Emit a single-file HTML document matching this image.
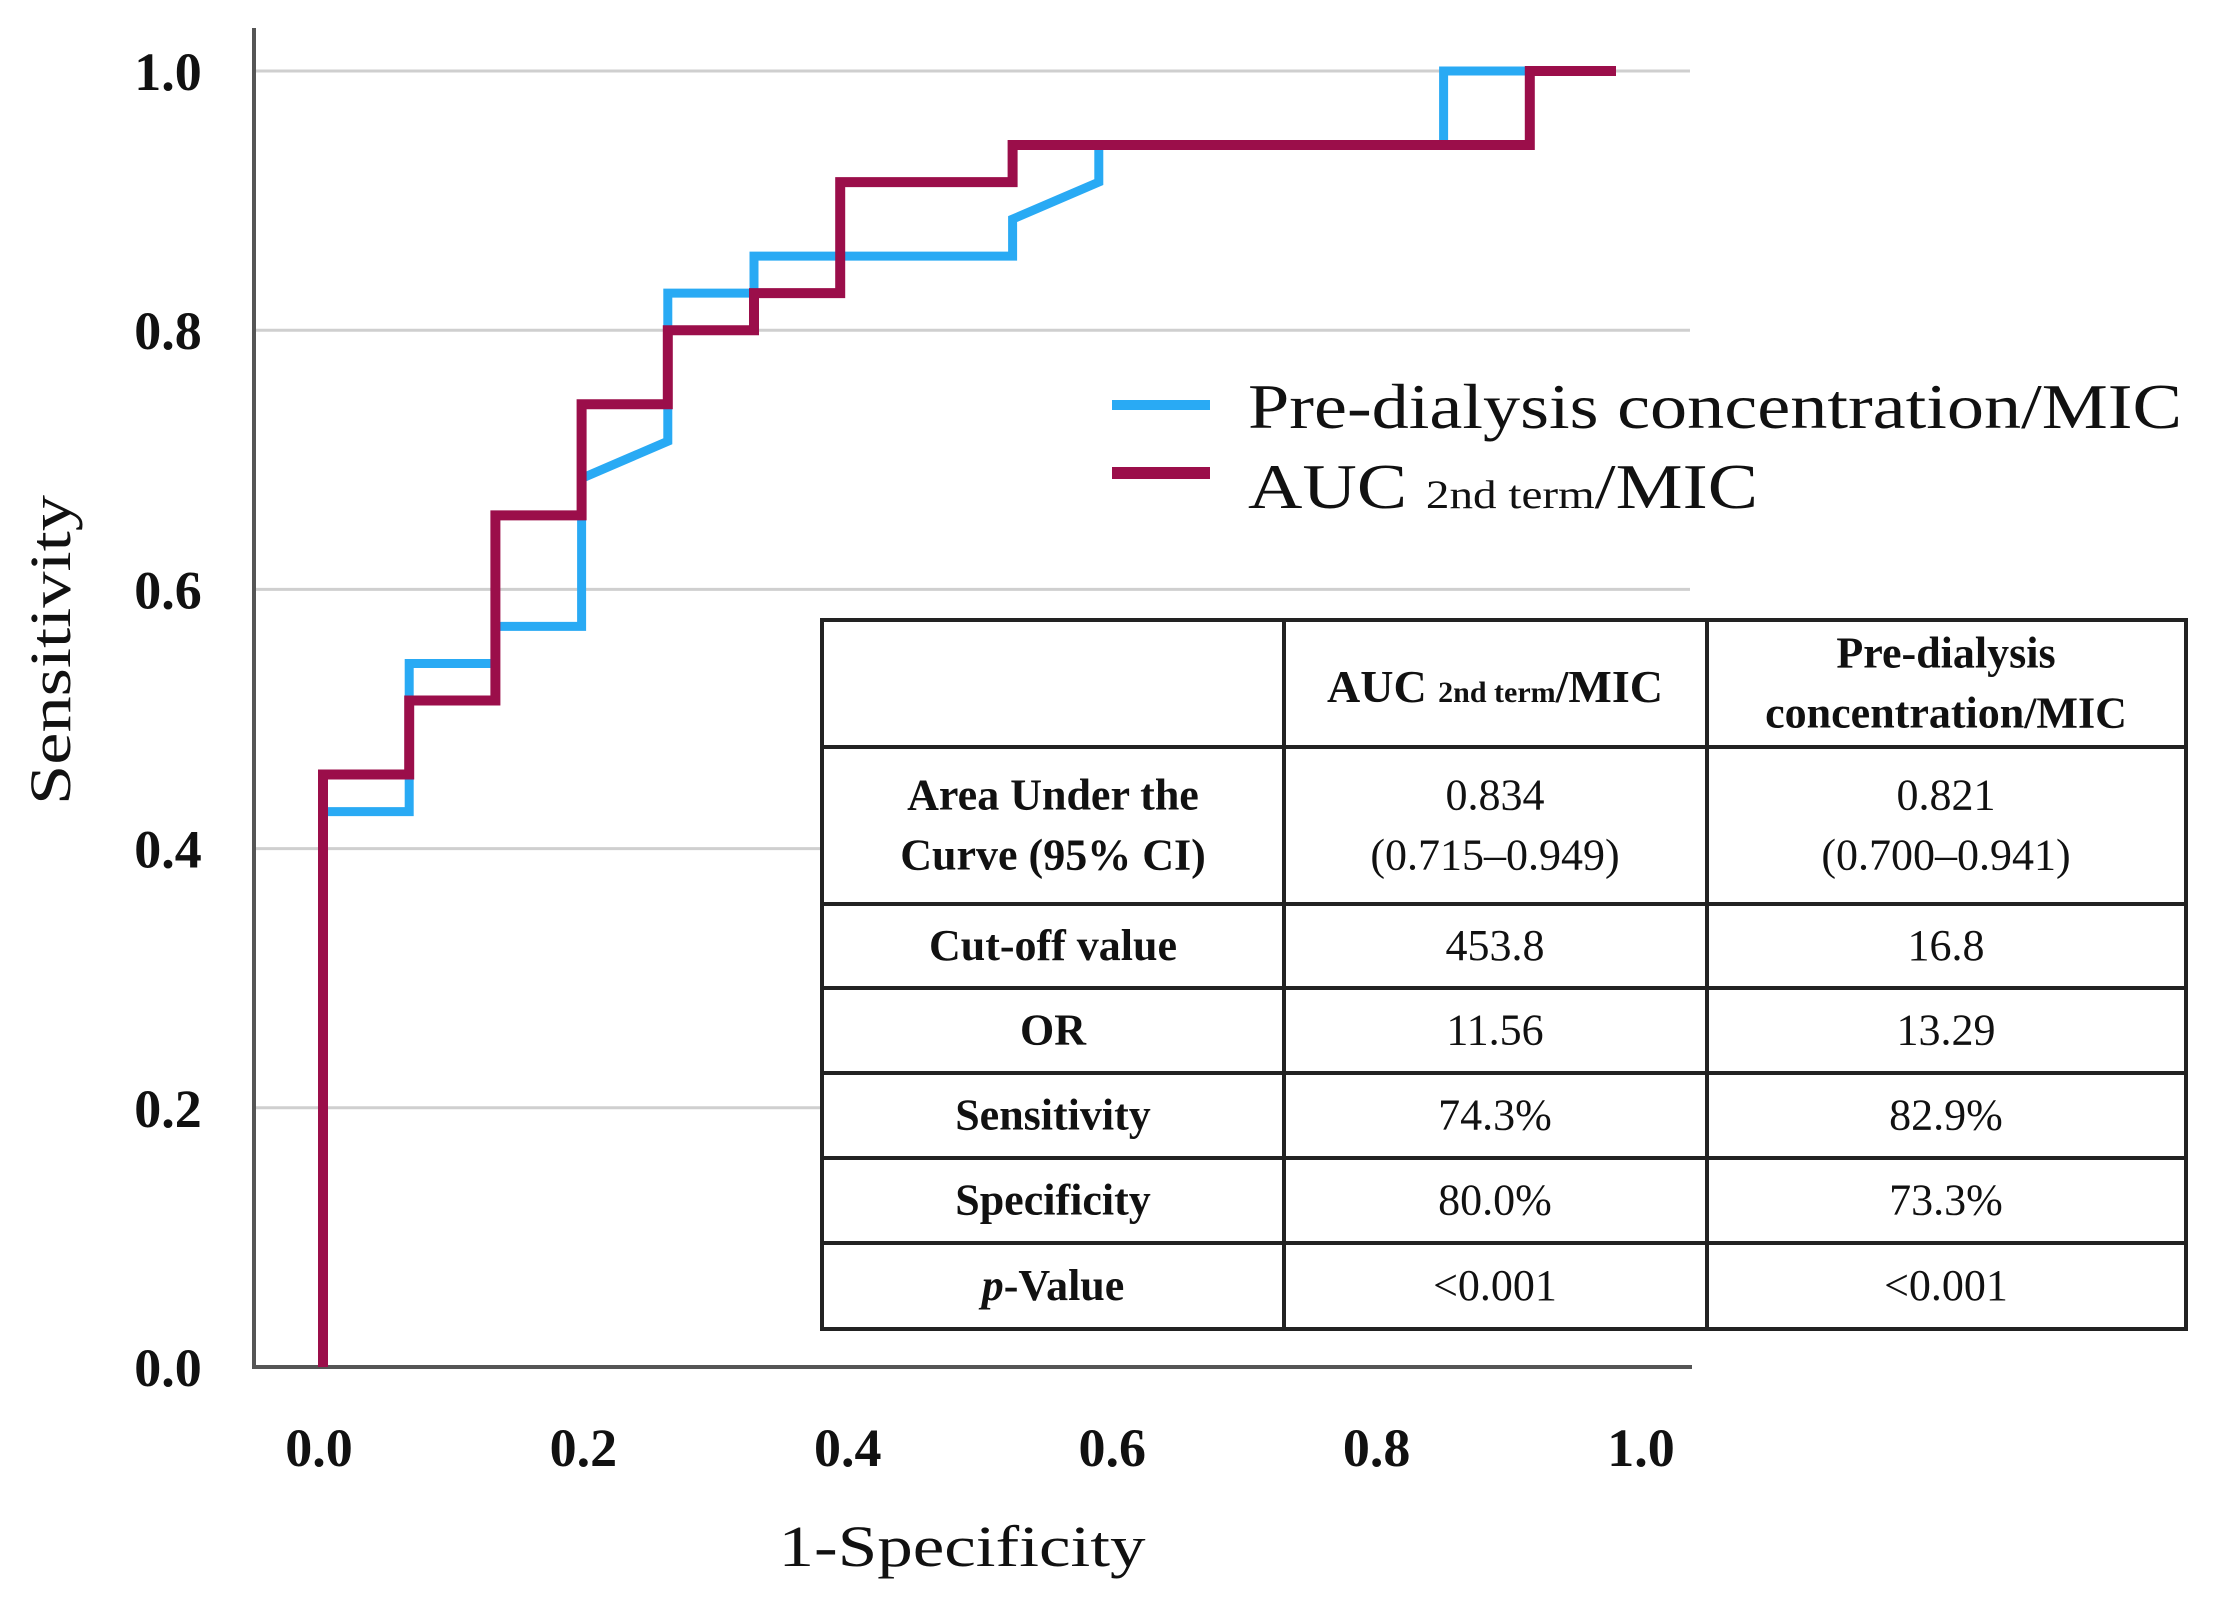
<!DOCTYPE html>
<html><head><meta charset="utf-8"><style>
html,body{margin:0;padding:0;background:#fff;}
svg{display:block;}
text{font-family:"Liberation Serif",serif;fill:#111;}
</style></head><body>
<svg id="chart" width="2214" height="1614" viewBox="0 0 2214 1614" xmlns="http://www.w3.org/2000/svg">
<g id="grid"></g>
<g id="axes"></g>
<g id="series"></g>
<g id="legend">
  <line x1="1112" y1="405" x2="1210" y2="405" stroke="#29aaf4" stroke-width="10"/>
  <text x="1248" y="428" font-size="64" textLength="934" lengthAdjust="spacingAndGlyphs">Pre-dialysis concentration/MIC</text>
  <line x1="1112" y1="473" x2="1210" y2="473" stroke="#9b0e4a" stroke-width="12"/>
  <text x="1248" y="508" font-size="64" textLength="510" lengthAdjust="spacingAndGlyphs">AUC <tspan font-size="40">2nd term</tspan>/MIC</text>
</g>
<g id="table"></g>
<text x="0" y="0" font-size="58" text-anchor="middle" transform="translate(70,650) rotate(-90)" textLength="310" lengthAdjust="spacingAndGlyphs">Sensitivity</text>
<text x="962" y="1566" font-size="58" text-anchor="middle" textLength="367" lengthAdjust="spacingAndGlyphs">1-Specificity</text>
</svg>
<script>
const yTicks = [0, 0.2, 0.4, 0.6, 0.8, 1.0];
const xTicks = [0, 0.2, 0.4, 0.6, 0.8, 1.0];
const preX = [0, 0, 1/15, 1/15, 2/15, 2/15, 3/15, 3/15, 4/15, 4/15, 5/15, 5/15, 8/15, 8/15, 9/15, 9/15, 13/15, 13/15, 14/15];
const preY = [0, 15/35, 15/35, 19/35, 19/35, 20/35, 20/35, 24/35, 25/35, 29/35, 29/35, 30/35, 30/35, 31/35, 32/35, 33/35, 33/35, 1, 1];
const aucX = [0, 0, 1/15, 1/15, 2/15, 2/15, 3/15, 3/15, 4/15, 4/15, 5/15, 5/15, 6/15, 6/15, 8/15, 8/15, 14/15, 14/15, 1];
const aucY = [0, 16/35, 16/35, 18/35, 18/35, 23/35, 23/35, 26/35, 26/35, 28/35, 28/35, 29/35, 29/35, 32/35, 32/35, 33/35, 33/35, 1, 1];
const rowLabels = ["Area Under the|Curve (95% CI)", "Cut-off value", "OR", "Sensitivity", "Specificity", "p-Value"];
const aucValues = ["0.834|(0.715\u20130.949)", "453.8", "11.56", "74.3%", "80.0%", "<0.001"];
const preValues = ["0.821|(0.700\u20130.941)", "16.8", "13.29", "82.9%", "73.3%", "<0.001"];

const NS = "http://www.w3.org/2000/svg";
function xs(v){ return 323 + v*1293; }
function xl(v){ return 319 + v*1322; }
function ys(v){ return 1367 - v*1296; }
function mk(tag, attrs, parent){ const e=document.createElementNS(NS,tag); for(const k in attrs) e.setAttribute(k, attrs[k]); parent.appendChild(e); return e; }

const grid=document.getElementById('grid'), axes=document.getElementById('axes'), series=document.getElementById('series'), table=document.getElementById('table');
yTicks.forEach(v=>{
  if(v>0){
    const g=mk('line',{x1:256,x2:1690,y1:ys(v),y2:ys(v),stroke:'#cfcfcf','stroke-width':3},grid);
    
    
  }
  const t=mk('text',{x:168,y:ys(v)+19,'font-size':54,'font-weight':'bold','text-anchor':'middle'},axes);
  t.textContent=v.toFixed(1);
  
  
});
xTicks.forEach(v=>{
  const t=mk('text',{x:xl(v),y:1466,'font-size':54,'font-weight':'bold','text-anchor':'middle'},axes);
  t.textContent=v.toFixed(1);
  
  
});
const ya=mk('line',{x1:254,x2:254,y1:28,y2:1369,stroke:'#555','stroke-width':4},axes);


const xa=mk('line',{x1:252,x2:1692,y1:1367,y2:1367,stroke:'#555','stroke-width':4},axes);



function pts(X,Y){ return X.map((x,i)=>xs(x)+','+ys(Y[i])).join(' '); }
const pl=mk('polyline',{points:pts(preX,preY),fill:'none',stroke:'#29aaf4','stroke-width':9,'stroke-linejoin':'miter'},series);


const al=mk('polyline',{points:pts(aucX,aucY),fill:'none',stroke:'#9b0e4a','stroke-width':10,'stroke-linejoin':'miter'},series);



// table
const cols=[822,1284,1707,2186];
const rows=[620,747,904,988,1073,1158,1243,1329];
const bg=mk('rect',{x:822,y:620,width:1364,height:709,fill:'#fff'},table);


rows.forEach(y=>{ const l=mk('line',{x1:820,x2:2188,y1:y,y2:y,stroke:'#222','stroke-width':4},table);
  
   });
cols.forEach(x=>{ const l=mk('line',{x1:x,x2:x,y1:618,y2:1331,stroke:'#222','stroke-width':4},table);
  
   });
function cell(txt,cx,top,bot,bold,name){
  const lines=txt.split('|');
  const mid=(top+bot)/2, lh=60;
  lines.forEach((s,i)=>{
    const y=mid+(i-(lines.length-1)/2)*lh+14;
    const t=mk('text',{x:cx,y:y,'font-size':44,'text-anchor':'middle','font-weight':bold?'bold':'normal'},table);
    if(s.startsWith('p-')){ const a=mk('tspan',{'font-style':'italic'},t); a.textContent='p'; const b=mk('tspan',{},t); b.textContent='-Value'; }
    else t.textContent=s;
    
    
  });
}
// header
const h1=mk('text',{x:1495,y:702,'font-size':46,'font-weight':'bold','text-anchor':'middle'},table);
h1.innerHTML='AUC <tspan font-size="30">2nd term</tspan>/MIC';


cell('Pre-dialysis|concentration/MIC',1946,620,747,true,'header-pre-dialysis');
rowLabels.forEach((r,i)=>{
  cell(r,1053,rows[i+1],rows[i+2],true,'row-label');
  cell(aucValues[i],1495,rows[i+1],rows[i+2],false,'auc-value');
  cell(preValues[i],1946,rows[i+1],rows[i+2],false,'pre-dialysis-value');
});
</script>
</body></html>
